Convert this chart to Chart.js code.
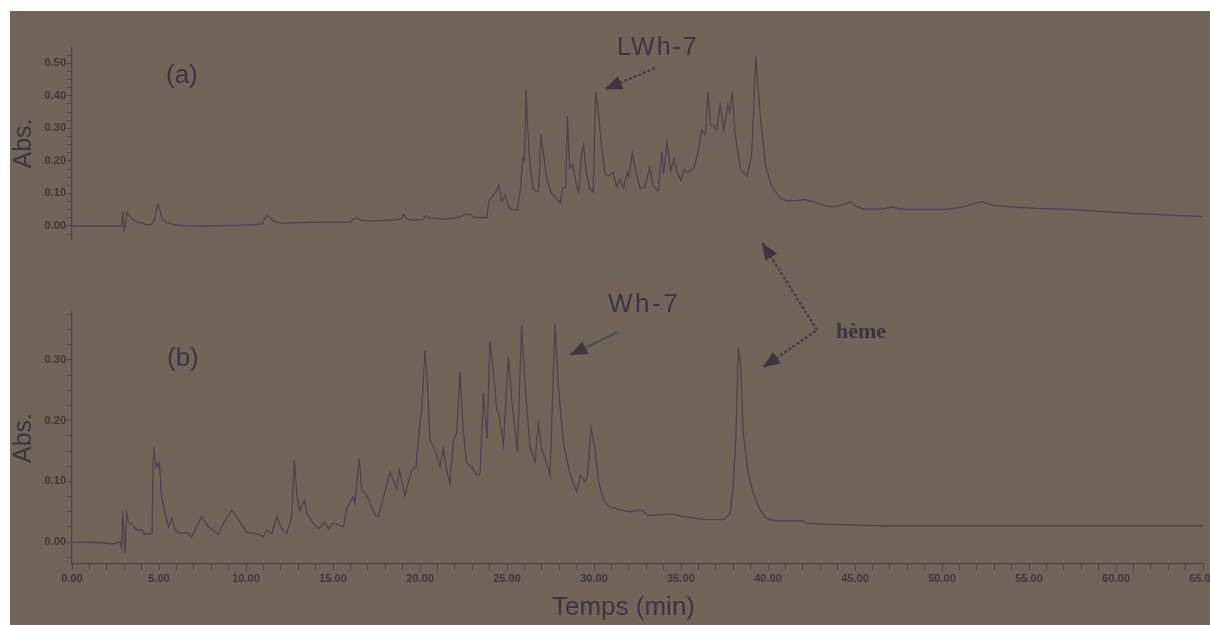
<!DOCTYPE html>
<html>
<head>
<meta charset="utf-8">
<script src="https://cdn.jsdelivr.net/npm/chart.js@4.4.0/dist/chart.umd.min.js"></script>
<style>
  body { margin: 0; background: #fff; }
  #wrap { position: relative; width: 1210px; height: 625px; overflow: hidden; }
  #panel { position: absolute; left: 10px; top: 11px; width: 1200px; height: 614px; background: #716559; }
  canvas { position: absolute; left: 0; top: 0; }
  .lbl { position: absolute; white-space: nowrap; line-height: 1; color: #3b3540;
         font-family: "Liberation Sans", Arial, sans-serif; }
</style>
</head>
<body>
<div id="wrap">
  <div id="panel"></div>
  <canvas id="chartB" width="1210" height="625"></canvas>
  <canvas id="chartA" width="1210" height="625"></canvas>
  <div class="lbl" style="left:166px;top:61px;font-size:26px">(a)</div>
  <div class="lbl" style="left:167px;top:344px;font-size:26px">(b)</div>
  <div class="lbl" style="left:617px;top:34px;font-size:25px;letter-spacing:2px">LWh-7</div>
  <div class="lbl" style="left:608px;top:290px;font-size:26px;letter-spacing:2.5px">Wh-7</div>
  <div class="lbl" style="left:836px;top:320px;font-size:22px;font-weight:bold;font-family:'Liberation Serif',serif">hème</div>
  <div class="lbl" style="left:552px;top:593px;font-size:26px">Temps (min)</div>
</div>
<script>
// chromatogram (a) : LWh-7, time in min / absorbance
const timeA = [0, 2.7, 2.85, 2.92, 3.0, 3.08, 3.15, 3.3, 3.5, 3.8, 4.0, 4.25, 4.55, 4.75, 4.88, 4.95, 5.05, 5.2, 5.45, 5.65,
  5.95, 6.5, 7.5, 8.5, 9.5, 10.5, 10.95, 11.1, 11.2, 11.4, 11.7, 12.0, 13.0, 14.0, 15.0, 16.0, 16.15, 16.35, 16.65, 17.0,
  17.5, 18.0, 18.5, 18.9, 19.05, 19.25, 19.7, 20.15, 20.35, 20.6, 21.4, 22.0, 22.4, 22.65, 22.9, 23.15, 23.85, 23.95, 24.2, 24.4,
  24.52, 24.7, 24.9, 25.1, 25.35, 25.6, 25.78, 25.9, 26.0, 26.1, 26.18, 26.32, 26.5, 26.7, 26.82, 26.96, 27.1, 27.3, 27.55, 27.85,
  28.05, 28.2, 28.38, 28.47, 28.6, 28.76, 29.0, 29.13, 29.27, 29.4, 29.56, 29.75, 29.95, 30.1, 30.25, 30.44, 30.64, 30.9, 31.1, 31.3,
  31.5, 31.7, 31.9, 32.0, 32.2, 32.4, 32.64, 32.93, 33.2, 33.4, 33.7, 33.9, 34.0, 34.2, 34.4, 34.6, 34.8, 35.0, 35.15, 35.4,
  35.6, 35.75, 36.0, 36.2, 36.4, 36.55, 36.7, 36.85, 37.05, 37.25, 37.45, 37.7, 37.8, 37.95, 38.1, 38.4, 38.8, 39.05, 39.18, 39.29,
  39.4, 39.55, 39.85, 40.2, 40.7, 41.1, 41.7, 42.1, 42.6, 43.1, 43.7, 44.3, 44.7, 45.1, 45.5, 46.6, 47.1, 47.7, 50.2, 51.2,
  51.9, 52.3, 52.9, 54.1, 55.4, 57.7, 59.3, 61.2, 63.7, 65.0];
const absA = [0, 0, 0, 0.045, -0.012, 0.004, 0.042, 0.032, 0.02, 0.011, 0.01, 0.004, 0.004, 0.02, 0.06, 0.067, 0.05, 0.02, 0.01, 0.008,
  0.003, 0.001, 0, 0.001, 0.002, 0.004, 0.008, 0.025, 0.032, 0.024, 0.012, 0.009, 0.01, 0.012, 0.011, 0.012, 0.02, 0.025, 0.017, 0.015,
  0.016, 0.017, 0.019, 0.022, 0.035, 0.022, 0.018, 0.02, 0.032, 0.024, 0.021, 0.024, 0.03, 0.037, 0.034, 0.026, 0.026, 0.077, 0.093, 0.108,
  0.126, 0.077, 0.094, 0.058, 0.05, 0.05, 0.116, 0.21, 0.2, 0.417, 0.31, 0.186, 0.116, 0.105, 0.108, 0.283, 0.217, 0.14, 0.1, 0.085,
  0.07, 0.116, 0.12, 0.337, 0.178, 0.19, 0.124, 0.105, 0.217, 0.248, 0.163, 0.116, 0.105, 0.412, 0.35, 0.24, 0.158, 0.155, 0.166, 0.12,
  0.143, 0.116, 0.166, 0.15, 0.224, 0.17, 0.116, 0.12, 0.18, 0.124, 0.108, 0.228, 0.16, 0.256, 0.17, 0.205, 0.16, 0.14, 0.172, 0.165,
  0.172, 0.178, 0.233, 0.295, 0.28, 0.412, 0.31, 0.31, 0.296, 0.373, 0.296, 0.373, 0.35, 0.412, 0.287, 0.178, 0.152, 0.217, 0.357, 0.522,
  0.45, 0.34, 0.186, 0.124, 0.085, 0.077, 0.079, 0.081, 0.075, 0.065, 0.058, 0.065, 0.075, 0.06, 0.052, 0.052, 0.059, 0.051, 0.051, 0.058,
  0.07, 0.075, 0.064, 0.058, 0.054, 0.05, 0.044, 0.038, 0.032, 0.029];

// chromatogram (b) : Wh-7
const timeB = [0, 1.8, 2.37, 2.76, 2.86, 2.91, 3.05, 3.14, 3.24, 3.43, 3.72, 4.0, 4.2, 4.6, 4.67, 4.71, 4.81, 4.87, 4.96, 5.02,
  5.15, 5.35, 5.54, 5.73, 5.92, 6.21, 6.59, 6.88, 7.45, 7.84, 8.41, 8.79, 9.18, 9.46, 10.04, 10.61, 11.0, 11.19, 11.48, 11.76,
  12.05, 12.34, 12.62, 12.78, 12.91, 13.1, 13.35, 13.49, 13.87, 14.16, 14.54, 14.73, 15.02, 15.6, 15.79, 16.17, 16.26, 16.51, 16.65, 16.93,
  17.41, 17.61, 17.89, 18.28, 18.66, 18.81, 19.14, 19.52, 19.77, 19.9, 20.1, 20.29, 20.42, 20.57, 20.77, 20.96, 21.15, 21.34, 21.53, 21.72,
  21.92, 22.11, 22.3, 22.49, 22.68, 22.97, 23.26, 23.45, 23.64, 23.85, 24.02, 24.21, 24.41, 24.5, 24.79, 25.08, 25.27, 25.6, 25.84, 26.03,
  26.32, 26.61, 26.8, 27.0, 27.28, 27.47, 27.62, 27.76, 27.95, 28.24, 28.62, 29.0, 29.23, 29.48, 29.62, 29.83, 30.06, 30.25, 30.54, 30.92,
  31.3, 31.49, 32.07, 32.25, 32.74, 33.1, 34.5, 35.13, 36.47, 37.43, 37.82, 38.0, 38.16, 38.3, 38.43, 38.58, 38.87, 39.16, 39.54, 39.92,
  40.5, 42.03, 42.22, 43.85, 46.72, 65];
const absB = [0, -0.001, -0.003, 0.001, -0.01, 0.05, -0.018, 0.048, 0.033, 0.03, 0.02, 0.02, 0.013, 0.014, 0.14, 0.157, 0.124, 0.13, 0.124, 0.13,
  0.075, 0.048, 0.025, 0.04, 0.02, 0.014, 0.016, 0.009, 0.042, 0.025, 0.013, 0.036, 0.052, 0.042, 0.016, 0.014, 0.009, 0.02, 0.014, 0.042,
  0.022, 0.014, 0.04, 0.135, 0.08, 0.052, 0.069, 0.048, 0.031, 0.022, 0.033, 0.022, 0.032, 0.025, 0.056, 0.075, 0.064, 0.137, 0.085, 0.078,
  0.045, 0.042, 0.072, 0.116, 0.088, 0.119, 0.077, 0.119, 0.124, 0.168, 0.22, 0.316, 0.267, 0.168, 0.157, 0.143, 0.124, 0.154, 0.119, 0.097,
  0.168, 0.179, 0.28, 0.182, 0.13, 0.124, 0.11, 0.112, 0.245, 0.17, 0.33, 0.283, 0.217, 0.215, 0.16, 0.305, 0.234, 0.149, 0.357, 0.261,
  0.157, 0.132, 0.196, 0.152, 0.13, 0.11, 0.239, 0.36, 0.256, 0.163, 0.113, 0.083, 0.11, 0.1, 0.108, 0.189, 0.152, 0.102, 0.069, 0.058,
  0.055, 0.053, 0.05, 0.051, 0.053, 0.044, 0.046, 0.042, 0.037, 0.037, 0.047, 0.091, 0.179, 0.32, 0.289, 0.179, 0.113, 0.08, 0.053, 0.039,
  0.035, 0.035, 0.031, 0.029, 0.027, 0.027];

// axis ranges
const xRange = [0, 65];
const yRangeA = [-0.04, 0.547];
const yRangeB = [-0.036, 0.379];

const lineColor = '#4e4250';
const axisColor = '#4d424c';
const tickText = '#3e3638';
const fontFam = '"Liberation Sans", Arial, sans-serif';

// arrows drawn in data units of each panel
const arrowPlugin = {
    id: 'arrows',
    afterDatasetsDraw(chart, args, opts) {
        const ctx = chart.ctx;
        const xs = chart.scales.x, ys = chart.scales.y;
        (opts.paths || []).forEach(p => {
            const pts = p.points.map(([t, v]) => [xs.getPixelForValue(t), ys.getPixelForValue(v)]);
            ctx.save();
            ctx.strokeStyle = p.color || '#433944';
            ctx.fillStyle = '#3f3540';
            ctx.lineWidth = 2.2;
            ctx.setLineDash(p.dash || []);
            ctx.beginPath();
            pts.forEach((q, i) => i ? ctx.lineTo(q[0], q[1]) : ctx.moveTo(q[0], q[1]));
            ctx.stroke();
            ctx.setLineDash([]);
            p.heads.forEach(i => {
                const tip = pts[i];
                const from = pts[i === 0 ? 1 : i - 1];
                const a = Math.atan2(tip[1] - from[1], tip[0] - from[0]);
                const len = 17, half = 7;
                ctx.beginPath();
                ctx.moveTo(tip[0], tip[1]);
                ctx.lineTo(tip[0] - len * Math.cos(a) + half * Math.sin(a), tip[1] - len * Math.sin(a) - half * Math.cos(a));
                ctx.lineTo(tip[0] - len * Math.cos(a) - half * Math.sin(a), tip[1] - len * Math.sin(a) + half * Math.cos(a));
                ctx.closePath();
                ctx.fill();
            });
            ctx.restore();
        });
    }
};

function yLabel(v) {
    return Math.round(v * 1000) % 100 === 0 ? v.toFixed(2) : '';
}

function makeChart(id, times, values, yRange, pad, showX, arrows) {
    return new Chart(document.getElementById(id), {
        type: 'line',
        data: {
            datasets: [{
                data: times.map((t, i) => ({ x: t, y: values[i] })),
                borderColor: lineColor,
                borderWidth: 1.3,
                pointRadius: 0,
                tension: 0,
                fill: false
            }]
        },
        options: {
            responsive: false,
            animation: false,
            layout: { padding: pad },
            plugins: {
                legend: { display: false },
                tooltip: { enabled: false },
                arrows: { paths: arrows }
            },
            scales: {
                x: {
                    type: 'linear',
                    display: showX,
                    min: xRange[0],
                    max: xRange[1],
                    afterFit(s) { s.height = 61; s.paddingLeft = 0; s.paddingRight = 0; },
                    border: { display: true, color: axisColor, width: 1.2 },
                    grid: { drawOnChartArea: false, tickLength: 6, tickColor: axisColor },
                    ticks: {
                        stepSize: 1,
                        autoSkip: false,
                        maxRotation: 0,
                        includeBounds: false,
                        padding: 2,
                        color: tickText,
                        font: { family: fontFam, size: 11, weight: 'bold' },
                        callback: v => Math.round(v) % 5 === 0 ? v.toFixed(2) : ''
                    }
                },
                y: {
                    min: yRange[0],
                    max: yRange[1],
                    afterFit(s) { s.width = 72; s.paddingTop = 0; s.paddingBottom = 0; },
                    border: { display: true, color: axisColor, width: 1.2 },
                    grid: { drawOnChartArea: false, tickLength: 5, tickColor: axisColor },
                    ticks: {
                        stepSize: 0.025,
                        autoSkip: false,
                        includeBounds: false,
                        padding: 1,
                        color: tickText,
                        font: { family: fontFam, size: 11, weight: 'bold' },
                        callback: yLabel
                    },
                    title: {
                        display: true,
                        text: 'Abs.',
                        color: '#3b3540',
                        font: { family: fontFam, size: 25 },
                        padding: { top: 9, bottom: 0 }
                    }
                }
            }
        },
        plugins: [arrowPlugin]
    });
}

makeChart('chartA', timeA, absA, yRangeA, { left: 0, right: 7, top: 48, bottom: 325 }, false, [
    { points: [[33.5, 0.485], [30.63, 0.42]], heads: [1], dash: [3, 2] }
]);

makeChart('chartB', timeB, absB, yRangeB, { left: 0, right: 7, top: 312, bottom: 0 }, true, [
    { points: [[31.38, 0.346], [28.62, 0.308]], heads: [1], color: '#4a5050' },
    { points: [[39.66, 0.493], [42.82, 0.349], [39.71, 0.288]], heads: [0, 2], dash: [3, 2] }
]);
</script>
</body>
</html>
